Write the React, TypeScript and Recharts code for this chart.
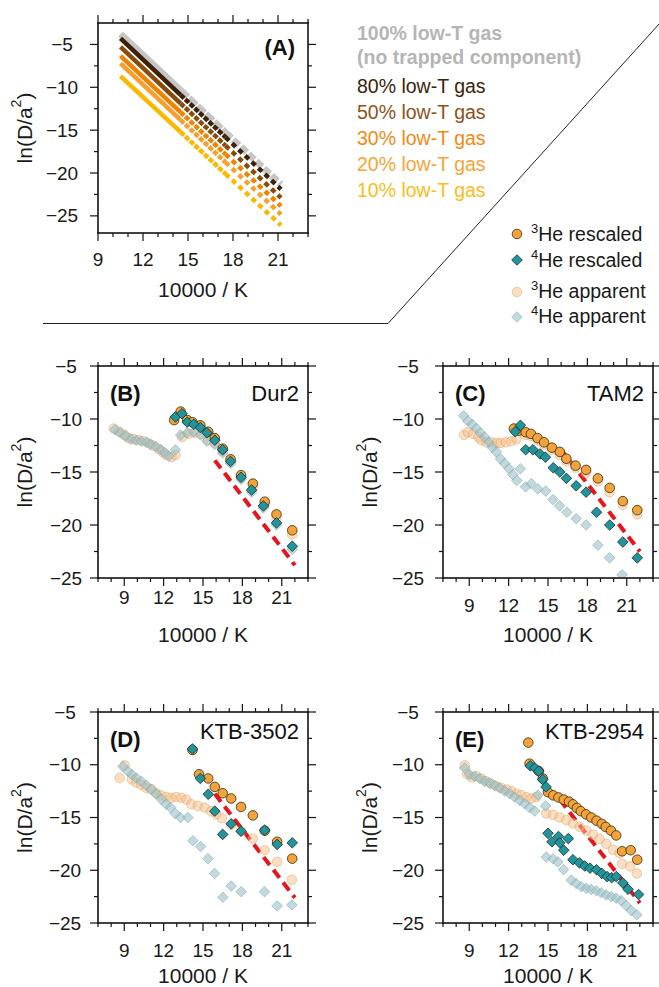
import React from "react";
import { ComposedChart, Line, Scatter, XAxis, YAxis } from "recharts";

const FONT = "'Liberation Sans', Arial, Helvetica, sans-serif";
const AX = "#151515";

type Pt = [number, number];

// ---- Panel A: model curves, ln(D/a2) at 10000/K break points
const modelX = [10.5, 14.5, 17.5, 21.2];
const gas100 = [-3.78, -10.35, -15.28, -21.35];
const gas80 = [-4.3, -10.88, -15.83, -21.9];
const gas50 = [-5.28, -11.87, -16.8, -22.9];
const gas30 = [-6.33, -12.89, -17.81, -23.86];
const gas20 = [-7.21, -13.8, -18.75, -24.83];
const gas10 = [-8.69, -15.21, -20.1, -26.1];

// ---- Panel B: Dur2
const dur2Res3: Pt[] = [[12.8, -10.1], [13.3, -9.3], [13.8, -10.1], [14.2, -10.3], [14.8, -10.6], [15.4, -11.2], [15.9, -11.8], [16.5, -12.8], [17.1, -13.8], [17.9, -15.3], [18.8, -16.1], [19.7, -17.8], [20.6, -19.0], [21.8, -20.5]];
const dur2Res4: Pt[] = [[12.9, -9.8], [13.4, -9.5], [13.8, -10.3], [14.3, -10.5], [14.8, -10.8], [15.3, -11.3], [15.9, -12.0], [16.5, -12.9], [17.1, -14.0], [17.9, -15.5], [18.7, -16.7], [19.6, -18.2], [20.6, -19.8], [21.8, -22.0]];
const dur2App3: Pt[] = [[8.2, -10.9], [8.6, -11.2], [9.0, -11.5], [9.3, -11.8], [9.7, -11.9], [10.1, -12.0], [10.5, -12.1], [10.9, -12.3], [11.2, -12.5], [11.6, -12.8], [11.9, -13.1], [12.2, -13.4], [12.6, -13.6], [12.9, -13.4], [13.4, -11.7], [13.9, -11.4], [14.4, -11.3], [14.9, -11.4], [15.4, -12.0], [15.9, -12.3], [16.5, -13.0], [17.1, -14.0], [17.9, -15.5], [18.8, -16.4], [19.7, -18.1], [20.6, -19.4], [21.8, -20.9]];
const dur2App4: Pt[] = [[8.3, -11.0], [8.7, -11.3], [9.1, -11.6], [9.5, -11.9], [9.9, -12.0], [10.3, -12.1], [10.7, -12.2], [11.0, -12.4], [11.4, -12.6], [11.8, -12.9], [12.1, -13.2], [12.4, -13.5], [12.9, -12.9], [13.3, -11.5], [13.8, -11.3], [14.3, -11.2], [14.8, -11.5], [15.3, -12.1], [15.9, -12.4], [16.5, -13.2], [17.1, -14.2], [17.9, -15.7], [18.7, -16.9], [19.6, -18.4], [20.6, -20.0], [21.8, -22.3]];
const dur2Fit: Pt[] = [[15.9, -13.9], [22.0, -23.8]];

// ---- Panel C: TAM2
const tamRes3: Pt[] = [[12.4, -10.9], [12.8, -11.1], [13.3, -11.25], [13.7, -11.4], [14.2, -11.8], [14.7, -12.2], [15.3, -12.7], [15.9, -13.1], [16.4, -13.75], [17.1, -14.4], [17.9, -14.8], [18.8, -15.6], [19.7, -16.5], [20.7, -17.75], [21.8, -18.6]];
const tamRes4: Pt[] = [[12.5, -11.2], [12.9, -10.6], [13.3, -12.9], [13.85, -12.9], [14.4, -13.3], [14.8, -13.6], [15.4, -14.6], [15.9, -15.0], [16.4, -15.6], [17.15, -16.3], [17.9, -16.9], [18.7, -18.8], [19.7, -20.0], [20.7, -21.6], [21.8, -23.1]];
const tamApp3: Pt[] = [[8.6, -11.5], [8.9, -11.25], [9.3, -11.4], [9.7, -11.7], [9.9, -12.0], [10.3, -12.2], [10.7, -12.2], [11.1, -12.25], [11.4, -12.25], [11.8, -12.2], [12.2, -12.1], [12.6, -11.9], [13.3, -11.5], [13.7, -11.6], [14.2, -12.0], [14.7, -12.4], [15.3, -12.9], [15.9, -13.4], [16.4, -14.0], [17.1, -14.6], [17.9, -15.1], [18.8, -15.9], [19.7, -16.9], [20.7, -18.1], [21.8, -19.0]];
const tamApp4: Pt[] = [[8.57, -9.7], [8.9, -10.2], [9.23, -10.5], [9.54, -10.9], [9.84, -11.3], [10.17, -11.7], [10.5, -12.2], [10.76, -12.7], [11.06, -13.1], [11.37, -13.75], [11.7, -14.2], [12.03, -14.7], [12.33, -15.25], [12.63, -15.8], [12.89, -14.7], [13.29, -16.4], [13.73, -16.1], [14.23, -16.6], [14.82, -16.8], [15.38, -17.6], [15.88, -18.2], [16.44, -18.8], [17.15, -19.4], [17.91, -20.0], [18.8, -21.9], [19.69, -23.1], [20.65, -24.7]];
const tamFit: Pt[] = [[15.9, -12.75], [22.0, -22.5]];

// ---- Panel D: KTB-3502
const k3502Res3: Pt[] = [[14.2, -8.6], [14.7, -10.9], [15.4, -11.3], [15.9, -12.1], [16.5, -12.7], [17.15, -13.2], [17.9, -14.0], [18.8, -14.8], [19.7, -16.25], [20.65, -17.3], [21.8, -18.9]];
const k3502Res4: Pt[] = [[14.2, -8.5], [14.8, -11.3], [15.4, -12.8], [15.9, -14.4], [16.5, -16.6], [17.15, -15.6], [17.9, -16.3], [19.7, -16.2], [20.65, -17.55], [21.8, -17.4]];
const k3502App3: Pt[] = [[8.65, -11.25], [9.03, -10.06], [9.59, -11.4], [9.92, -11.7], [10.3, -11.9], [10.68, -12.2], [11.06, -12.3], [11.44, -12.7], [11.82, -12.9], [12.2, -13.06], [12.58, -13.13], [12.96, -13.06], [13.35, -13.13], [13.73, -13.3], [14.11, -13.75], [14.61, -13.9], [15.12, -14.06], [15.63, -14.4], [16.0, -14.7], [16.44, -15.06], [17.15, -15.7], [17.91, -16.3], [18.8, -17.0], [19.69, -18.1], [20.65, -19.2], [21.77, -20.9]];
const k3502App4: Pt[] = [[8.9, -10.16], [9.28, -10.63], [9.59, -10.94], [9.92, -11.25], [10.3, -11.56], [10.68, -11.94], [11.06, -12.34], [11.44, -12.75], [11.82, -13.28], [12.2, -13.75], [12.53, -14.06], [12.89, -14.63], [13.29, -15.0], [13.85, -15.0], [14.23, -17.2], [14.82, -17.75], [15.38, -18.9], [15.88, -20.3], [16.52, -22.56], [17.15, -21.5], [17.91, -22.03], [19.69, -22.03], [20.65, -23.38], [21.77, -23.28]];
const k3502Fit: Pt[] = [[15.9, -12.75], [22.0, -22.6]];

// ---- Panel E: KTB-2954
const k2954Res3: Pt[] = [[13.5, -7.9], [13.6, -9.9], [14.3, -10.6], [14.6, -11.3], [15.0, -12.6], [15.4, -12.9], [15.8, -13.1], [16.2, -13.3], [16.6, -13.5], [16.9, -13.75], [17.2, -14.1], [17.5, -14.4], [17.9, -14.7], [18.3, -15.0], [18.7, -15.3], [19.1, -15.6], [19.4, -15.9], [19.8, -16.25], [20.2, -16.7], [20.65, -18.2], [21.3, -18.1], [21.8, -19.0]];
const k2954Res4: Pt[] = [[13.65, -10.1], [14.0, -10.3], [14.3, -10.6], [14.6, -11.4], [14.85, -12.1], [15.0, -16.5], [15.3, -17.3], [15.8, -16.8], [15.9, -17.4], [16.2, -18.1], [16.55, -17.0], [16.9, -19.0], [17.4, -19.3], [17.8, -19.6], [18.2, -19.8], [18.7, -19.95], [19.1, -20.3], [19.5, -20.6], [19.85, -20.7], [20.2, -20.6], [20.7, -21.2], [21.1, -21.8], [21.9, -22.3]];
const k2954App3: Pt[] = [[8.65, -10.06], [8.83, -10.88], [9.16, -11.19], [9.54, -11.09], [9.92, -11.31], [10.3, -11.56], [10.68, -11.81], [11.06, -12.03], [11.44, -12.19], [11.82, -12.34], [12.2, -12.5], [12.58, -12.75], [12.96, -12.88], [13.35, -13.06], [13.73, -13.19], [14.11, -13.06], [14.87, -14.63], [15.38, -14.75], [15.88, -15.0], [16.39, -15.25], [16.9, -15.56], [17.41, -15.88], [17.91, -16.25], [18.42, -16.63], [18.93, -17.03], [19.44, -17.5], [19.94, -18.06], [20.45, -18.38], [20.65, -19.38], [21.26, -19.63], [21.77, -20.31]];
const k2954App4: Pt[] = [[8.65, -10.31], [9.03, -10.94], [9.41, -11.09], [9.79, -11.31], [10.17, -11.56], [10.55, -11.72], [10.93, -11.94], [11.31, -12.19], [11.7, -12.5], [12.08, -12.75], [12.46, -13.06], [12.84, -13.38], [13.22, -13.69], [13.6, -14.06], [13.98, -14.38], [14.23, -12.88], [14.82, -13.91], [14.87, -18.75], [15.38, -18.91], [15.76, -19.22], [16.19, -19.94], [16.77, -20.94], [17.15, -21.25], [17.53, -21.56], [17.91, -21.72], [18.29, -21.81], [18.68, -21.94], [19.06, -22.13], [19.44, -22.34], [19.82, -22.5], [20.2, -22.66], [20.58, -22.88], [20.96, -23.34], [21.34, -23.81], [21.77, -24.22]];
const k2954Fit: Pt[] = [[15.9, -13.3], [22.0, -23.1]];

// ---- axes
const xTicksA = [9, 10, 11, 12, 13, 14, 15, 16, 17, 18, 19, 20, 21, 22, 23];
const xTicksB = [7, 8, 9, 10, 11, 12, 13, 14, 15, 16, 17, 18, 19, 20, 21, 22, 23];
const xMajors = [9, 12, 15, 18, 21];
const yTicks = [-5, -7.5, -10, -12.5, -15, -17.5, -20, -22.5, -25];
const yMajors = [-5, -10, -15, -20, -25];

const pts = (a: Pt[]) => a.map(([x, y]) => ({ x, y }));
const seg = (ys: number[], i0: number, i1: number) =>
  modelX.slice(i0, i1 + 1).map((x, i) => ({ x, y: ys[i0 + i] }));

const fmt = (v: number) => (v < 0 ? "\u2212" + Math.abs(v) : String(v));

// labels only; the tick marks and frame are drawn in the overlay
function makeTick(side: string, labelOff = 0) {
  return (p: any) => {
    const { x, y } = p;
    const v = p.payload.value;
    const major = side === "bottom" ? xMajors.includes(v) : yMajors.includes(v);
    if (!major) return <g />;
    return side === "bottom" ? (
      <text x={x} y={y + labelOff} textAnchor="middle" dominantBaseline="central" fontSize={19} fontFamily={FONT} fill="#1a1a1a">{fmt(v)}</text>
    ) : (
      <text x={x + labelOff} y={y} textAnchor="middle" dominantBaseline="central" fontSize={19} fontFamily={FONT} fill="#1a1a1a">{fmt(v)}</text>
    );
  };
}

const circleShape = (fill: string, stroke: string, op: number) => (p: any) => (
  <circle cx={p.cx} cy={p.cy} r={4.8} fill={fill} fillOpacity={op} stroke={stroke} strokeOpacity={op} strokeWidth={0.8} />
);
const diamondShape = (fill: string, stroke: string, op: number) => (p: any) => {
  const r = 5.3;
  return (
    <path d={`M${p.cx},${p.cy - r}L${p.cx + r},${p.cy}L${p.cx},${p.cy + r}L${p.cx - r},${p.cy}Z`} fill={fill} fillOpacity={op} stroke={stroke} strokeOpacity={op} strokeWidth={0.8} />
  );
};

const He3Res = circleShape("#f2a33a", "#3b2a12", 1);
const He4Res = diamondShape("#23959a", "#0f2f30", 1);
const He3App = circleShape("#f6bf88", "#d8955a", 0.5);
const He4App = diamondShape("#9cc2c8", "#7aa2a8", 0.62);

interface Box { x: number; y: number; w: number; h: number }

function Frame({ box, xDomain, xTicks, yDomain, xLabOff, yLabOff, children }: {
  box: Box; xDomain: [number, number]; xTicks: number[]; yDomain: [number, number];
  xLabOff: number; yLabOff: number; children: React.ReactNode;
}) {
  const W = box.w + 75;
  const H = box.h + 85;
  return (
    <div style={{ position: "absolute", left: box.x - 60, top: box.y - 15, width: W, height: H }}>
      <ComposedChart width={W} height={H} margin={{ top: 15, right: 15, bottom: 0, left: 0 }}>
        <XAxis type="number" dataKey="x" domain={xDomain} ticks={xTicks} interval={0} allowDataOverflow
          height={70} tickSize={0} tickMargin={0} axisLine={false} tickLine={false} tick={makeTick("bottom", xLabOff)} />
        <YAxis type="number" dataKey="y" domain={yDomain} ticks={yTicks} interval={0} allowDataOverflow
          width={60} tickSize={0} tickMargin={0} axisLine={false} tickLine={false} tick={makeTick("left", yLabOff)} />
        {children}
      </ComposedChart>
    </div>
  );
}

function dataPanel(box: Box, app4: Pt[], app3: Pt[], res3: Pt[], res4: Pt[], fit: Pt[], xLabOff: number, yLabOff: number) {
  return (
    <Frame box={box} xDomain={[7, 23]} xTicks={xTicksB} yDomain={[-25, -5]} xLabOff={xLabOff} yLabOff={yLabOff}>
      <Scatter data={pts(app3)} dataKey="y" shape={He3App} isAnimationActive={false} />
      <Scatter data={pts(app4)} dataKey="y" shape={He4App} isAnimationActive={false} />
      <Scatter data={pts(res3)} dataKey="y" shape={He3Res} isAnimationActive={false} />
      <Scatter data={pts(res4)} dataKey="y" shape={He4Res} isAnimationActive={false} />
      <Line data={pts(fit)} dataKey="y" stroke="#e8141c" strokeWidth={4} strokeDasharray="10 6" dot={false} isAnimationActive={false} />
    </Frame>
  );
}

const modelSeries = [
  { ys: gas100, color: "#c6c6c6", w: 7 },
  { ys: gas80, color: "#3d2206", w: 4.5 },
  { ys: gas50, color: "#8a4c0c", w: 4.5 },
  { ys: gas30, color: "#f08300", w: 4.5 },
  { ys: gas20, color: "#f7a030", w: 4.5 },
  { ys: gas10, color: "#fbb800", w: 4.5 },
];

const legendModel = [
  { t: "80% low-T gas", c: "#3b2409" },
  { t: "50% low-T gas", c: "#8e5218" },
  { t: "30% low-T gas", c: "#f28b12" },
  { t: "20% low-T gas", c: "#f7a535" },
  { t: "10% low-T gas", c: "#fbbd1a" },
];

const panels = [
  { box: { x: 98, y: 23, w: 210, h: 210 }, xd: [9, 23], yd: [-27, -2.5], xt: xTicksA, tag: "(A)", name: "" },
  { box: { x: 98, y: 366, w: 210, h: 212 }, xd: [7, 23], yd: [-25, -5], xt: xTicksB, tag: "(B)", name: "Dur2" },
  { box: { x: 443, y: 366, w: 210, h: 212 }, xd: [7, 23], yd: [-25, -5], xt: xTicksB, tag: "(C)", name: "TAM2" },
  { box: { x: 98, y: 712, w: 210, h: 211 }, xd: [7, 23], yd: [-25, -5], xt: xTicksB, tag: "(D)", name: "KTB-3502" },
  { box: { x: 443, y: 712, w: 210, h: 211 }, xd: [7, 23], yd: [-25, -5], xt: xTicksB, tag: "(E)", name: "KTB-2954" },
];

function FrameTicks({ p }: { p: (typeof panels)[number] }) {
  const b = p.box;
  const sx = (v: number) => b.x + ((v - p.xd[0]) / (p.xd[1] - p.xd[0])) * b.w;
  const sy = (v: number) => b.y + ((p.yd[1] - v) / (p.yd[1] - p.yd[0])) * b.h;
  const t = 1.6;
  const marks: JSX.Element[] = [];
  p.xt.forEach((v, i) => {
    const L = xMajors.includes(v) ? 8 : 4;
    const x = sx(v);
    marks.push(<rect key={`xb${i}`} x={x - 0.6} y={b.y + b.h} width={1.2} height={L} />);
    marks.push(<rect key={`xt${i}`} x={x - 0.6} y={b.y - L} width={1.2} height={L} />);
  });
  yTicks.forEach((v, i) => {
    const L = yMajors.includes(v) ? 8 : 4;
    const y = sy(v);
    marks.push(<rect key={`yl${i}`} x={b.x - L} y={y - 0.6} width={L} height={1.2} />);
    marks.push(<rect key={`yr${i}`} x={b.x + b.w} y={y - 0.6} width={L} height={1.2} />);
  });
  return (
    <g fill={AX} stroke="none">
      <rect x={b.x - t / 2} y={b.y - t / 2} width={b.w + t} height={t} />
      <rect x={b.x - t / 2} y={b.y + b.h - t / 2} width={b.w + t} height={t} />
      <rect x={b.x - t / 2} y={b.y - t / 2} width={t} height={b.h + t} />
      <rect x={b.x + b.w - t / 2} y={b.y - t / 2} width={t} height={b.h + t} />
      {marks}
    </g>
  );
}

export default function App() {
  const [pA, pB, pC, pD, pE] = panels.map((p) => p.box);
  return (
    <div style={{ position: "absolute", left: 0, top: 0, width: 659, height: 987, background: "#fff", fontFamily: FONT, overflow: "hidden" }}>
      <Frame box={pA} xDomain={[9, 23]} xTicks={xTicksA} yDomain={[-27, -2.5]} xLabOff={26} yLabOff={-36}>
        {modelSeries.flatMap((s, i) => [
          <Line key={`a${i}`} data={seg(s.ys, 0, 1)} dataKey="y" stroke={s.color} strokeWidth={s.w} dot={false} isAnimationActive={false} />,
          <Line key={`b${i}`} data={seg(s.ys, 1, 2)} dataKey="y" stroke={s.color} strokeWidth={s.w} strokeDasharray={i === 0 ? "10 1.5" : "5 1.5"} dot={false} isAnimationActive={false} />,
          <Line key={`c${i}`} data={seg(s.ys, 2, 3)} dataKey="y" stroke={s.color} strokeWidth={s.w} strokeDasharray={i === 0 ? "8 2.5" : "5 4"} dot={false} isAnimationActive={false} />,
        ])}
      </Frame>
      {dataPanel(pB, dur2App4, dur2App3, dur2Res3, dur2Res4, dur2Fit, 19, -32)}
      {dataPanel(pC, tamApp4, tamApp3, tamRes3, tamRes4, tamFit, 27, -35)}
      {dataPanel(pD, k3502App4, k3502App3, k3502Res3, k3502Res4, k3502Fit, 27, -33)}
      {dataPanel(pE, k2954App4, k2954App3, k2954Res3, k2954Res4, k2954Fit, 27, -35)}

      <svg width={659} height={987} style={{ position: "absolute", left: 0, top: 0, pointerEvents: "none", zIndex: 5 }} fontFamily={FONT}>
        <polyline points="43,323.5 388,323.5 660,23" fill="none" stroke="#222" strokeWidth={1} />
        {panels.map((p, i) => {
          const b = p.box;
          const cy = b.y + b.h / 2;
          const cx = b.x - 74;
          const ty = Math.min(b.y + b.h + 56, 975);
          return (
            <g key={i}>
              <FrameTicks p={p} />
              <text x={b.x + b.w / 2} y={ty} textAnchor="middle" dominantBaseline="central" fontSize={21} fill="#1a1a1a">10000 / K</text>
              <text x={cx} y={cy} transform={`rotate(-90 ${cx} ${cy})`} textAnchor="middle" dominantBaseline="central" fontSize={21} fill="#1a1a1a">
                ln(D/a<tspan dy={-8} fontSize={14}>2</tspan><tspan dy={8}>)</tspan>
              </text>
              {i === 0 ? (
                <text x={b.x + 197} y={b.y + 24} textAnchor="end" dominantBaseline="central" fontSize={22} fontWeight="bold" fill="#111">(A)</text>
              ) : (
                <>
                  <text x={b.x + 12} y={b.y + 27} dominantBaseline="central" fontSize={22} fontWeight="bold" fill="#111">{p.tag}</text>
                  <text x={b.x + 201} y={b.y + (i > 2 ? 19 : 27)} textAnchor="end" dominantBaseline="central" fontSize={22} fill="#111">{p.name}</text>
                </>
              )}
            </g>
          );
        })}
        <text x={357} y={40} fontSize={19.5} fontWeight="bold" fill="#b5b5b5">100% low-T gas</text>
        <text x={357} y={64} fontSize={19.5} fontWeight="bold" fill="#b5b5b5">(no trapped component)</text>
        {legendModel.map((m, i) => (
          <text key={m.t} x={357} y={93 + i * 26} fontSize={19.5} fill={m.c}>{m.t}</text>
        ))}
        <g>
          {He3Res({ cx: 517, cy: 234 })}
          {He4Res({ cx: 517, cy: 260 })}
          {He3App({ cx: 517, cy: 292 })}
          {He4App({ cx: 517, cy: 317 })}
        </g>
        {[
          { n: "3", t: "He rescaled", y: 241 },
          { n: "4", t: "He rescaled", y: 267 },
          { n: "3", t: "He apparent", y: 298 },
          { n: "4", t: "He apparent", y: 323 },
        ].map((r, i) => (
          <text key={i} x={531} y={r.y} fontSize={19.5} fill="#1a1a1a">
            <tspan fontSize={13} dy={-8}>{r.n}</tspan>
            <tspan dy={8}>{r.t}</tspan>
          </text>
        ))}
      </svg>
    </div>
  );
}
